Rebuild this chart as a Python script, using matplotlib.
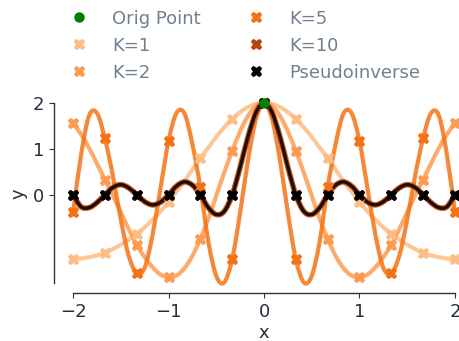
import numpy as np
import matplotlib
matplotlib.use("Agg")
import matplotlib.pyplot as plt
from matplotlib.path import Path
from matplotlib.patches import PathPatch

# ---- data ----
x_dense = [-2.000, -1.917, -1.833, -1.750, -1.667, -1.583, -1.500, -1.417, -1.333, -1.250,
           -1.167, -1.083, -1.000, -0.917, -0.833, -0.750, -0.667, -0.583, -0.500, -0.417,
           -0.333, -0.250, -0.167, -0.083, 0.000, 0.083, 0.167, 0.250, 0.333, 0.417,
           0.500, 0.583, 0.667, 0.750, 0.833, 0.917, 1.000, 1.083, 1.167, 1.250,
           1.333, 1.417, 1.500, 1.583, 1.667, 1.750, 1.833, 1.917, 2.000]

k1_vals = [-1.40, -1.39, -1.36, -1.32, -1.27, -1.18, -1.09, -0.98, -0.85, -0.71,
           -0.54, -0.36, -0.15, 0.07, 0.30, 0.55, 0.80, 1.03, 1.26, 1.47,
           1.65, 1.80, 1.91, 1.98, 2.00, 1.98, 1.91, 1.80, 1.65, 1.47,
           1.26, 1.03, 0.80, 0.55, 0.30, 0.07, -0.15, -0.36, -0.54, -0.71,
           -0.85, -0.98, -1.09, -1.18, -1.27, -1.32, -1.36, -1.39, -1.40]

k2_vals = [1.56, 1.32, 1.02, 0.68, 0.33, -0.02, -0.38, -0.75, -1.09, -1.36,
           -1.58, -1.74, -1.79, -1.76, -1.60, -1.33, -0.96, -0.52, -0.02, 0.48,
           0.96, 1.38, 1.72, 1.93, 2.00, 1.93, 1.72, 1.38, 0.96, 0.48,
           -0.02, -0.52, -0.96, -1.33, -1.60, -1.76, -1.79, -1.74, -1.58, -1.36,
           -1.09, -0.75, -0.38, -0.02, 0.33, 0.68, 1.02, 1.32, 1.56]

k5_vals = [-0.38, 0.86, 1.72, 1.78, 1.23, 0.41, -0.54, -1.33, -1.71, -1.59,
           -0.87, 0.16, 1.17, 1.78, 1.77, 1.10, 0.16, -1.02, -1.77, -1.91,
           -1.40, -0.39, 0.76, 1.66, 2.00, 1.66, 0.76, -0.39, -1.40, -1.91,
           -1.77, -1.02, 0.16, 1.10, 1.77, 1.78, 1.17, 0.16, -0.87, -1.59,
           -1.71, -1.33, -0.54, 0.41, 1.23, 1.78, 1.72, 0.86, -0.38]

k10_vals = [0.00, -0.26, -0.28, -0.17, 0.00, 0.16, 0.22, 0.15, 0.00, -0.15,
            -0.22, -0.16, 0.00, 0.19, 0.28, 0.21, 0.00, -0.28, -0.43, -0.36,
            0.00, 0.60, 1.27, 1.80, 2.00, 1.80, 1.27, 0.60, 0.00, -0.36,
            -0.43, -0.28, 0.00, 0.21, 0.28, 0.19, 0.00, -0.16, -0.22, -0.15,
            0.00, 0.15, 0.22, 0.16, 0.00, -0.17, -0.28, -0.26, 0.00]

pinv_vals = [0.00, -0.26, -0.28, -0.17, 0.00, 0.16, 0.22, 0.15, 0.00, -0.15,
             -0.22, -0.16, 0.00, 0.19, 0.28, 0.21, 0.00, -0.28, -0.43, -0.36,
             0.00, 0.60, 1.27, 1.80, 2.00, 1.80, 1.27, 0.60, 0.00, -0.36,
             -0.43, -0.28, 0.00, 0.21, 0.28, 0.19, 0.00, -0.16, -0.22, -0.15,
             0.00, 0.15, 0.22, 0.16, 0.00, -0.17, -0.28, -0.26, 0.00]

orig_x = [0.0]
orig_y = [2.0]

series_labels = ["K=1", "K=2", "K=5", "K=10", "Pseudoinverse"]
series_vals = [k1_vals, k2_vals, k5_vals, k10_vals, pinv_vals]
series_colors = ["#fdbe85", "#fd9b50", "#f47214", "#b5450b", "#000000"]
line_widths = [3.0, 3.0, 3.0, 4.0, 2.3]
line_alphas = [0.85, 0.85, 0.85, 0.9, 0.85]

xticks = [-2, -1, 0, 1, 2]
yticks = [0, 1, 2]

TEXT = "#262f3d"
LEGEND_TEXT = "#708090"
SPINE = "#30343c"


def smooth_path(xs, ys):
    pts = np.column_stack([xs, ys]).astype(float)
    n = len(pts)
    verts = [pts[0]]
    codes = [Path.MOVETO]
    for i in range(n - 1):
        p0 = pts[i - 1] if i > 0 else pts[i]
        p1 = pts[i]
        p2 = pts[i + 1]
        p3 = pts[i + 2] if i + 2 < n else pts[i + 1]
        c1 = p1 + (p2 - p0) / 6.0
        c2 = p2 - (p3 - p1) / 6.0
        verts += [c1, c2, p2]
        codes += [Path.CURVE4] * 3
    return Path(verts, codes)


plt.rcParams["font.family"] = ["DejaVu Sans"]
plt.rcParams["font.size"] = 13

fig = plt.figure(figsize=(4.59, 3.41), dpi=100)
ax = fig.add_axes([54 / 459, 48 / 341, 420 / 459, 199.2 / 341])

xd = np.array(x_dense)
for vals, col, lw, al in zip(series_vals, series_colors, line_widths, line_alphas):
    patch = PathPatch(smooth_path(xd, vals), facecolor="none", edgecolor=col,
                      lw=lw, alpha=al, capstyle="round", joinstyle="round", zorder=2)
    ax.add_patch(patch)

ax.plot(orig_x, orig_y, "o", color="green", ms=6.5, ls="none",
        label="Orig Point", zorder=6)
for vals, col, lab in zip(series_vals, series_colors, series_labels):
    z = 5 if lab == "Pseudoinverse" else 4
    ax.plot(xd[::4], np.array(vals)[::4], "X", color=col, mec=col, ms=7.5,
            mew=0.8, ls="none", label=lab, zorder=z)

handles, labels = ax.get_legend_handles_labels()

ax.set_xlim(-2.2, 2.2)
ax.set_ylim(-2.14, 2.2)
ax.set_xticks(xticks)
ax.set_yticks(yticks)
ax.set_xlabel("x", color=TEXT, labelpad=2.5)
ax.set_ylabel("y", color=TEXT)
for s in ["top", "right"]:
    ax.spines[s].set_visible(False)
ax.spines["left"].set_bounds(-1.93, 2)
ax.spines["bottom"].set_bounds(-2, 2)
for s in ["left", "bottom"]:
    ax.spines[s].set_color(SPINE)
    ax.spines[s].set_linewidth(1.0)
ax.tick_params(colors=SPINE, labelcolor=TEXT, labelsize=13)

leg = fig.legend(handles, labels, loc="upper left", ncol=2, frameon=False,
                 bbox_to_anchor=(54 / 459, 1.0 - 2.5 / 341), bbox_transform=fig.transFigure,
                 borderaxespad=0, fontsize=13, labelspacing=0.5,
                 columnspacing=2.1, handletextpad=0.8)
for t in leg.get_texts():
    t.set_color(LEGEND_TEXT)

fig.savefig("out.png", dpi=100)
